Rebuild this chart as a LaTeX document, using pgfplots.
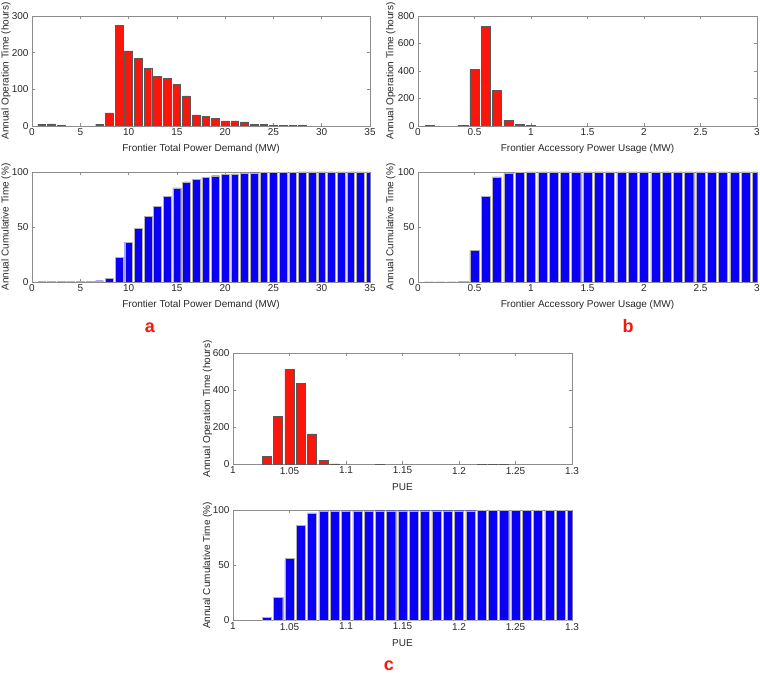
\documentclass[border=0pt]{standalone}
\usepackage{fontspec}
\setmainfont{Liberation Sans}
\usepackage{pgfplots}
\pgfplotsset{compat=1.18}
\definecolor{mred}{RGB}{250,22,10}
\definecolor{mblue}{RGB}{10,0,245}
\definecolor{axgray}{RGB}{140,140,140}
\definecolor{txt}{RGB}{40,40,40}
\pgfplotsset{
  mstyle/.style={
    scale only axis,
    height=110pt,
    axis line style={axgray, line width=0.7pt},
    every tick/.style={axgray, line width=0.6pt},
    major tick length=3pt,
    tick align=inside,
    font=\fontsize{10}{12}\selectfont,
    tick label style={txt, font=\fontsize{10}{12}\selectfont},
    label style={txt},
    /pgf/number format/assume math mode=true,
    scaled ticks=false,
    ymin=0,
    xlabel style={at={(axis description cs:0.5,0)}, anchor=center, yshift=-23pt},
    xticklabel style={yshift=1pt},
  },
  redbar/.style={ybar, bar width=#1, fill=mred, draw=black!65, line width=0.45pt},
  bluebar/.style={ybar, bar width=#1, fill=mblue, draw=black!30, line width=0.4pt},
}
\begin{document}
\begin{tikzpicture}
\useasboundingbox (0pt,0pt) rectangle (760pt,674pt);

% ---------- a top
\begin{axis}[mstyle, at={(32pt,548pt)}, anchor=south west, width=338pt,
  xmin=0, xmax=35, ymax=300, xtick={0,5,...,35}, ytick={0,100,200,300},
  xlabel={Frontier Total Power Demand (MW)},
  ylabel={Annual Operation Time (hours)},
  ylabel style={at={(axis description cs:-0.077,0.5)}, anchor=center}]
\addplot[redbar=0.8] coordinates {
(1,5) (2,6) (3,1) (7,5) (8,36) (9,275) (10,205) (11,185) (12,157) (13,135)
(14,130) (15,114) (16,82) (17,30) (18,27) (19,20) (20,14) (21,14) (22,11)
(23,4) (24,4) (25,2) (26,2) (27,2) (28,1)};
\end{axis}

% ---------- a bottom
\begin{axis}[mstyle, at={(32pt,392pt)}, anchor=south west, width=338pt,
  xmin=0, xmax=35, ymax=100, xtick={0,5,...,35}, ytick={0,50,100},
  xlabel={Frontier Total Power Demand (MW)},
  ylabel={Annual Cumulative Time (\%)},
  ylabel style={at={(axis description cs:-0.077,0.5)}, anchor=center}]
\addplot[bluebar=0.8] coordinates {
(1,0.34) (2,0.75) (3,0.82) (4,0.82) (5,0.82) (6,0.82) (7,1.16) (8,3.6)
(9,22.4) (10,36.3) (11,48.9) (12,59.6) (13,68.8) (14,77.7) (15,85.5)
(16,91.1) (17,93.3) (18,95.2) (19,96.6) (20,97.6) (21,98.4) (22,99.0)
(23,99.25) (24,99.5) (25,99.66) (26,99.8) (27,99.93) (28,100) (29,100)
(30,100) (31,100) (32,100) (33,100) (34,100) (35,100)};
\end{axis}

% ---------- b top
\begin{axis}[mstyle, at={(418pt,548pt)}, anchor=south west, width=339pt,
  xmin=0, xmax=3, ymax=800, xtick={0,0.5,1,1.5,2,2.5,3},
  xticklabels={0,0.5,1,1.5,2,2.5,3}, ytick={0,200,400,600,800},
  xlabel={Frontier Accessory Power Usage (MW)},
  ylabel={Annual Operation Time (hours)},
  ylabel style={at={(axis description cs:-0.080,0.5)}, anchor=center}]
\addplot[redbar=0.08] coordinates {
(0.1,3) (0.4,7) (0.5,410) (0.6,723) (0.7,258) (0.8,43) (0.9,14) (1.0,7)};
\end{axis}

% ---------- b bottom
\begin{axis}[mstyle, at={(418pt,392pt)}, anchor=south west, width=339pt,
  xmin=0, xmax=3, ymax=100, xtick={0,0.5,1,1.5,2,2.5,3},
  xticklabels={0,0.5,1,1.5,2,2.5,3}, ytick={0,50,100},
  xlabel={Frontier Accessory Power Usage (MW)},
  ylabel={Annual Cumulative Time (\%)},
  ylabel style={at={(axis description cs:-0.080,0.5)}, anchor=center}]
\addplot[bluebar=0.08] coordinates {
(0.1,0.2) (0.2,0.2) (0.3,0.2) (0.4,0.7) (0.5,28.7) (0.6,78.0) (0.7,95.6)
(0.8,98.6) (0.9,99.5) (1.0,100) (1.1,100) (1.2,100) (1.3,100) (1.4,100)
(1.5,100) (1.6,100) (1.7,100) (1.8,100) (1.9,100) (2.0,100) (2.1,100)
(2.2,100) (2.3,100) (2.4,100) (2.5,100) (2.6,100) (2.7,100) (2.8,100)
(2.9,100) (3.0,100)};
\end{axis}

% ---------- c top
\begin{axis}[mstyle, at={(233pt,209.5pt)}, anchor=south west, width=339pt,
  height=111pt,
  xmin=1, xmax=1.3, ymax=600, xtick={1,1.05,1.1,1.15,1.2,1.25,1.3},
  xticklabels={1,1.05,1.1,1.15,1.2,1.25,1.3}, ytick={0,200,400,600},
  xlabel={PUE},
  ylabel={Annual Operation Time (hours)},
  ylabel style={at={(axis description cs:-0.075,0.5)}, anchor=center}]
\addplot[redbar=0.008] coordinates {
(1.03,43) (1.04,259) (1.05,516) (1.06,437) (1.07,165) (1.08,23) (1.09,3)
(1.13,2) (1.22,1) (1.23,1) (1.24,1)};
\end{axis}

% ---------- c bottom
\begin{axis}[mstyle, at={(233pt,53.5pt)}, anchor=south west, width=339pt,
  xmin=1, xmax=1.3, ymax=100, xtick={1,1.05,1.1,1.15,1.2,1.25,1.3},
  xticklabels={1,1.05,1.1,1.15,1.2,1.25,1.3}, ytick={0,50,100},
  xlabel={PUE},
  ylabel={Annual Cumulative Time (\%)},
  ylabel style={at={(axis description cs:-0.075,0.5)}, anchor=center}]
\addplot[bluebar=0.008] coordinates {
(1.03,3.0) (1.04,20.8) (1.05,56.4) (1.06,86.5) (1.07,97.9) (1.08,99.5)
(1.09,99.7) (1.10,99.7) (1.11,99.7) (1.12,99.7) (1.13,99.8) (1.14,99.8)
(1.15,99.8) (1.16,99.8) (1.17,99.8) (1.18,99.8) (1.19,99.8) (1.20,99.8)
(1.21,99.8) (1.22,99.86) (1.23,99.93) (1.24,100) (1.25,100) (1.26,100)
(1.27,100) (1.28,100) (1.29,100) (1.30,100)};
\end{axis}

\node[anchor=base, inner sep=0pt, text=mred, font=\fontsize{18}{20}\selectfont\bfseries] at (150pt,341pt) {a};
\node[anchor=base, inner sep=0pt, text=mred, font=\fontsize{18}{20}\selectfont\bfseries] at (628pt,341pt) {b};
\node[anchor=base, inner sep=0pt, text=mred, font=\fontsize{18}{20}\selectfont\bfseries] at (389pt,3pt) {c};
\end{tikzpicture}
\end{document}
